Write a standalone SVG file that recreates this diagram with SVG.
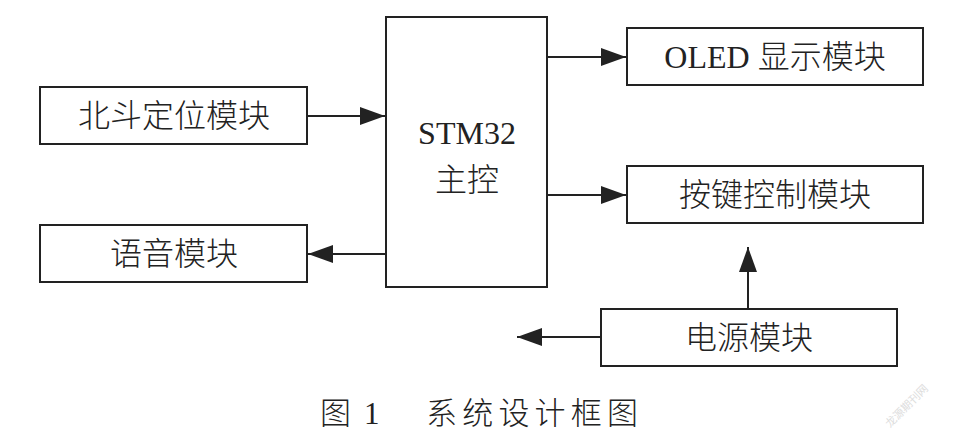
<svg xmlns="http://www.w3.org/2000/svg" width="956" height="438" viewBox="0 0 956 438">
<style>
.box{fill:#fff;stroke:#222;stroke-width:2}
.lbl{font-family:"Liberation Serif","Noto Sans CJK SC",serif;font-size:32px;fill:#222;text-anchor:middle}
.cn{font-family:"Noto Sans CJK SC",sans-serif;font-weight:300}
.ln{stroke:#222;stroke-width:2;fill:none}
.cap{font-family:"Liberation Serif","Noto Sans CJK SC",serif;font-size:31px;fill:#222}
</style>
<defs>
<marker id="ah" markerUnits="userSpaceOnUse" markerWidth="26" markerHeight="20" viewBox="0 0 26 20" refX="25" refY="10" orient="auto">
<path d="M0,1 L25,10 L0,19 Z" fill="#222"/>
</marker>
</defs>
<rect width="956" height="438" fill="#fff"/>
<g id="connectors">
<line class="ln" x1="307" y1="116" x2="385" y2="116" marker-end="url(#ah)"/>
<line class="ln" x1="386" y1="254" x2="308" y2="254" marker-end="url(#ah)"/>
<line class="ln" x1="547" y1="57" x2="626" y2="57" marker-end="url(#ah)"/>
<line class="ln" x1="547" y1="195" x2="626" y2="195" marker-end="url(#ah)"/>
<line class="ln" x1="748" y1="309" x2="748" y2="247" marker-end="url(#ah)"/>
<line class="ln" x1="601" y1="337" x2="517" y2="337" marker-end="url(#ah)"/>
</g>
<g id="stm32">
<rect class="box" x="386" y="17" width="161" height="270"/>
<text class="lbl" x="467" y="144" font-size="33">STM32</text>
<text class="lbl cn" x="467" y="191" font-size="31">主控</text>
</g>
<g id="beidou">
<rect class="box" x="40" y="87" width="267" height="57"/>
<text class="lbl cn" x="174" y="127">北斗定位模块</text>
</g>
<g id="voice">
<rect class="box" x="40" y="225" width="267" height="57"/>
<text class="lbl cn" x="174" y="265">语音模块</text>
</g>
<g id="oled">
<rect class="box" x="627" y="28" width="296" height="57"/>
<text class="lbl" x="775" y="68">OLED <tspan class="cn">显示模块</tspan></text>
</g>
<g id="keys">
<rect class="box" x="627" y="166" width="296" height="57"/>
<text class="lbl cn" x="775" y="206">按键控制模块</text>
</g>
<g id="power">
<rect class="box" x="601" y="309" width="296" height="57"/>
<text class="lbl cn" x="749" y="349">电源模块</text>
</g>
<g id="caption">
<text class="cap cn" x="320" y="424">图</text>
<text class="cap" x="364" y="424">1</text>
<text class="cap cn" x="426" y="424" textLength="212" lengthAdjust="spacing">系统设计框图</text>
</g>
<text font-family="Noto Sans CJK SC,sans-serif" font-size="11" fill="#ddd" transform="translate(890,428) rotate(-45)">龙源期刊网</text>
</svg>
